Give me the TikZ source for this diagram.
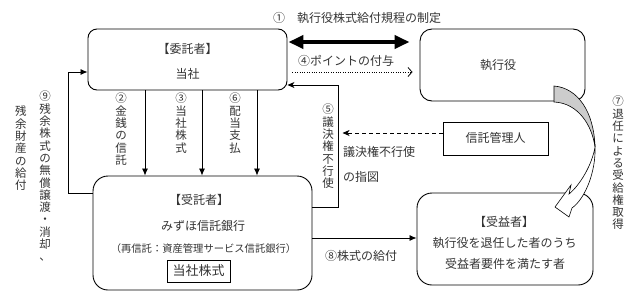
\documentclass[tikz,border=0pt]{standalone}
\usepackage{fontspec}
\newfontfamily\jp{Noto Sans CJK JP}
\usetikzlibrary{arrows.meta}
\begin{document}
\begin{tikzpicture}[x=1pt,y=-1pt,
  rbox/.style={draw, line width=0.9pt, inner sep=0pt},
  sbox/.style={draw, line width=0.9pt, inner sep=0pt},
  txt/.style={font=\jp\fontsize{12}{14}\selectfont, text=black!80, inner sep=0pt},
  stxt/.style={font=\jp\fontsize{10.3}{12}\selectfont, text=black!80, inner sep=0pt},
  vlab/.style={align=center, anchor=north, inner sep=0pt, text=black!80, font=\jp\fontsize{11.5}{12.3}\selectfont},
  conn/.style={line width=0.8pt},
  arr/.style={conn, -{Latex[length=7pt,width=6pt]}},
  arrs/.style={conn, -{Stealth[length=7pt,width=6pt,inset=2pt]}},
  dbl/.style={line width=4pt, {Triangle[length=15pt,width=13pt]}-{Triangle[length=15pt,width=13pt]}},
]
\useasboundingbox (0,0) rectangle (640,295);

% boxes
\node[rbox, rounded corners=9pt, minimum width=199pt, minimum height=61pt] (comm) at (187.5,59.5) {};
\node[rbox, rounded corners=12pt, minimum width=165pt, minimum height=72pt] (exec) at (502.5,65) {};
\node[rbox, rounded corners=15pt, minimum width=219pt, minimum height=114pt] (trus) at (202.5,233) {};
\node[rbox, rounded corners=15pt, minimum width=176pt, minimum height=92pt] (benef) at (505,239) {};
\node[sbox, minimum width=105pt, minimum height=33pt] (tm) at (495.5,138.5) {};
\node[sbox, minimum width=63pt, minimum height=22pt] (stock) at (198.5,271) {};

% box texts
\node[txt] (commt) at (187.5,49) {【委託者】};
\node[txt] (comms) at (187.5,74) {当社};
\node[txt] (exect) at (498,65) {執行役};
\node[txt] (trust) at (199,200) {【受託者】};
\node[txt] (trusn) at (203,226) {みずほ信託銀行};
\node[stxt] (trusr) at (203.5,249) {（再信託：資産管理サービス信託銀行）};
\node[txt, font=\jp\fontsize{13}{15}\selectfont] (stockt) at (198.5,271) {当社株式};
\node[txt] (beneft) at (504,222) {【受益者】};
\node[txt] (benefa) at (504.5,243) {執行役を退任した者のうち};
\node[txt] (benefb) at (505,264) {受益者要件を満たす者};
\node[txt] (tmt) at (495.5,138) {信託管理人};

% connectors
\draw[dbl, shorten <=1pt, shorten >=10pt] (comm.east |- 0,42) -- (exec.west |- 0,42);
\draw[conn, dash pattern=on 1pt off 1.4pt, -{Straight Barb[length=4pt,width=9pt]}, shorten <=5pt, shorten >=7pt] (comm.east |- 0,72) -- (exec.west |- 0,72);
\draw[arr] (comm.south -| 145,0) -- (trus.north -| 145,0);
\draw[arr] (comm.south -| 202,0) -- (trus.north -| 202,0);
\draw[arr] (comm.south -| 257,0) -- (trus.north -| 257,0);
\draw[arr] (trus.west |- 0,193) -- ++(-24,0) |- (comm.west |- 0,72);
\draw[arrs] (trus.east |- 0,207) -- ++(26,0) |- (comm.east |- 0,85);
\draw[arrs, dash pattern=on 4pt off 3pt] (tm.west |- 0,133) -- ++(-100,0);
\draw[arr] (trus.east |- 0,238) -- (benef.west |- 0,238);

% curved arrow (7)
\draw[line width=0.6pt, fill=gray!40] (554,86) .. controls (578,88) and (594,112) .. (595,147)
   .. controls (592,125) and (578,103) .. (554,102) -- cycle;
\draw[line width=0.6pt, fill=white, line join=miter] (595,147) .. controls (596,170) and (586,198) .. (572,208)
   -- (569,217) -- (555,207) -- (571,185) -- (569,194)
   .. controls (580,185) and (592,165) .. (595,147) -- cycle;

% labels
\node[txt] (l1) at (357,18) {①　執行役株式給付規程の制定};
\node[txt] (l4) at (346,61) {④ポイントの付与};
\node[txt, anchor=west] (l5a) at (343,152) {議決権不行使};
\node[txt, anchor=west] (l5b) at (343,177) {の指図};
\node[txt] (l8) at (361,256) {⑧株式の給付};

\node[vlab] (v2) at (121,93) {②\\金\\銭\\の\\信\\託};
\node[vlab] (v3) at (181,93) {③\\当\\社\\株\\式};
\node[vlab] (v6) at (235,93) {⑥\\配\\当\\支\\払};
\node[vlab] (v5) at (328,104) {⑤\\議\\決\\権\\不\\行\\使};
\node[vlab] (v7) at (618,96) {⑦\\退\\任\\に\\よ\\る\\受\\給\\権\\取\\得};
\node[vlab] (v9a) at (45,91) {⑨\\残\\余\\株\\式\\の\\無\\償\\譲\\渡\\・\\消\\却\\、};
\node[vlab] (v9b) at (21,106) {残\\余\\財\\産\\の\\給\\付};
\end{tikzpicture}
\end{document}
